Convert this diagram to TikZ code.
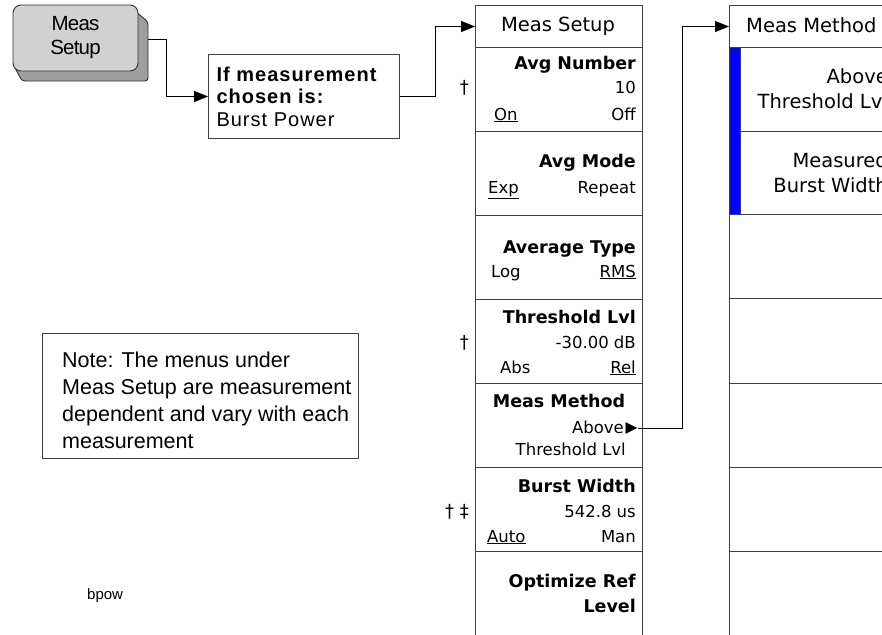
\documentclass[tikz,border=0pt]{standalone}
\usepackage{fontspec}
\setmainfont{Liberation Sans}
\newfontfamily\hp{DejaVu Sans}
\newfontfamily\condfont[LetterSpace=5]{Liberation Sans}
\newfontfamily\keyfont[LetterSpace=-4]{Liberation Sans}
\usetikzlibrary{arrows.meta}
\tikzset{
  lnc/.style={draw=black!75, line width=1pt},
  arr/.style={draw=black, line width=0.9pt, -{Triangle[length=14pt,width=11pt]}},
  keyshadow/.style={fill=black!38, draw=black!80, line width=0.9pt, rounded corners=3pt},
  keyface/.style={fill=black!18, draw=black!80, line width=0.9pt, rounded corners=8pt,
    minimum width=125pt, minimum height=66pt, inner sep=0pt, align=center,
    font=\keyfont\fontsize{20.5}{24}\selectfont},
  condbox/.style={lnc, anchor=north west, text width=175pt, inner xsep=8pt, inner ysep=0pt,
    minimum height=84pt, align=left, font=\condfont\fontsize{20}{22.5}\selectfont},
  notebox/.style={lnc, anchor=north west, minimum width=316pt, minimum height=125pt, inner sep=0pt},
  notetxt/.style={anchor=north west, inner sep=0pt, align=left, font=\fontsize{21.5}{27}\selectfont},
  cell/.style={lnc, rectangle, inner sep=0pt, anchor=north west, minimum width=167pt},
  cellb/.style={lnc, rectangle, inner sep=0pt, anchor=north west, minimum width=180pt},
  bluebar/.style={draw=black!75, line width=1pt, fill=blue, anchor=north west, inner sep=0pt,
    minimum width=11pt, minimum height=167pt},
  hdr/.style={inner sep=0pt, font=\hp\fontsize{19.5}{22}\selectfont},
  ttl/.style={inner sep=0pt, anchor=base east, font=\hp\bfseries\fontsize{17.5}{20}\selectfont},
  sub/.style={inner sep=0pt, anchor=base east, font=\hp\fontsize{16.5}{19}\selectfont},
  subl/.style={sub, anchor=base west},
  mmtxt/.style={inner sep=0pt, anchor=base east, font=\hp\fontsize{19.5}{22}\selectfont},
  dag/.style={inner sep=0pt, anchor=base east, font=\hp\fontsize{18}{20}\selectfont},
  small/.style={inner sep=0pt, anchor=base west, font=\fontsize{15}{18}\selectfont}
}
\begin{document}
\begin{tikzpicture}[x=1pt,y=-1pt]
\useasboundingbox (0,0) rectangle (882,634);
\clip (0,0) rectangle (882,634);

% Meas Setup hard key
\draw[keyshadow] (128,5) -- (148,22) -- (148,81) -- (22,81) -- (13,64) -- cycle;
\node[keyface] (key) at (75.5,38) {Meas\\Setup};
\coordinate (keyout) at (148,39);

% condition box
\node[condbox] (cond) at (208,54) {\textbf{If measurement}\\\textbf{chosen is:}\\Burst Power};

% Meas Setup menu column
\node[cell, minimum height=42pt] (ms0) at (475,5) {};
\node[cell, minimum height=84pt] (ms1) at (475,47) {};
\node[cell, minimum height=84pt] (ms2) at (475,131) {};
\node[cell, minimum height=84pt] (ms3) at (475,215) {};
\node[cell, minimum height=84pt] (ms4) at (475,299) {};
\node[cell, minimum height=84pt] (ms5) at (475,383) {};
\node[cell, minimum height=84pt] (ms6) at (475,467) {};
\node[cell, minimum height=100pt] (ms7) at (475,551) {};

\node[hdr, anchor=base] (h1) at (558,32) {Meas Setup};
\node[ttl] (a1) at (636,70) {Avg Number};
\node[sub] (a2) at (636,93) {10};
\node[subl] (a3) at (494,120) {\underline{On}};
\node[sub] (a4) at (636,120) {Off};
\node[ttl] (b1) at (636,167) {Avg Mode};
\node[subl] (b2) at (488,193) {\underline{Exp}};
\node[sub] (b3) at (636,193) {Repeat};
\node[ttl] (c1) at (636,253) {Average Type};
\node[subl] (c2) at (491,277) {Log};
\node[sub] (c3) at (636,277) {\underline{RMS}};
\node[ttl] (d1) at (636,323) {Threshold Lvl};
\node[sub] (d2) at (636,348) {-30.00 dB};
\node[subl] (d3) at (500,373) {Abs};
\node[sub] (d4) at (636,373) {\underline{Rel}};
\node[ttl, anchor=base] (e1) at (559,407) {Meas Method};
\node[sub] (e2) at (624,433) {Above};
\node[sub, anchor=base west, font=\hp\fontsize{15.5}{17}\selectfont] (tri) at (625.5,432) {▶};
\node[sub] (e3) at (626,455) {Threshold Lvl};
\node[ttl] (f1) at (636,492) {Burst Width};
\node[sub] (f2) at (636,517) {542.8 us};
\node[subl] (f3) at (487,542) {\underline{Auto}};
\node[sub] (f4) at (636,542) {Man};
\node[ttl] (g1) at (636,587) {Optimize Ref};
\node[ttl] (g2) at (636,612) {Level};

\node[dag] (k1) at (469,93) {†};
\node[dag] (k2) at (469,348) {†};
\node[dag] (k3) at (469,517) {† ‡};

% Meas Method submenu column
\node[cellb, minimum height=42pt] (mm0) at (729,5) {};
\node[bluebar] (bar) at (729,47) {};
\node[lnc, rectangle, inner sep=0pt, anchor=north west, minimum width=169pt, minimum height=84pt] (mm1) at (740,47) {};
\node[lnc, rectangle, inner sep=0pt, anchor=north west, minimum width=169pt, minimum height=83pt] (mm2) at (740,131) {};
\node[cellb, minimum height=84pt] (mm3) at (729,214) {};
\node[cellb, minimum height=85pt] (mm4) at (729,298) {};
\node[cellb, minimum height=84pt] (mm5) at (729,383) {};
\node[cellb, minimum height=84pt] (mm6) at (729,467) {};
\node[cellb, minimum height=100pt] (mm7) at (729,551) {};

\node[hdr, anchor=base west] (h2) at (746,33) {Meas Method};
\node[mmtxt] (m1) at (888,83) {Above};
\node[mmtxt] (m2) at (888,108) {Threshold Lvl};
\node[mmtxt] (m3) at (888,167) {Measured};
\node[mmtxt] (m4) at (888,192) {Burst Width};

% note
\node[notebox] (note) at (42,333) {};
\node[notetxt] (notet) at (62,351.5) {Note: The menus under\\Meas Setup are measurement\\dependent and vary with each\\measurement};
\node[small] (bp) at (87,599) {bpow};

% connectors
\draw[arr] (keyout) -- (166,39) |- (cond.west);
\draw[arr] (cond.east) -- ++(35,0) |- (ms0.west);
\draw[arr] (tri.east) -- ++(45,0) |- (mm0.west);
\end{tikzpicture}
\end{document}
